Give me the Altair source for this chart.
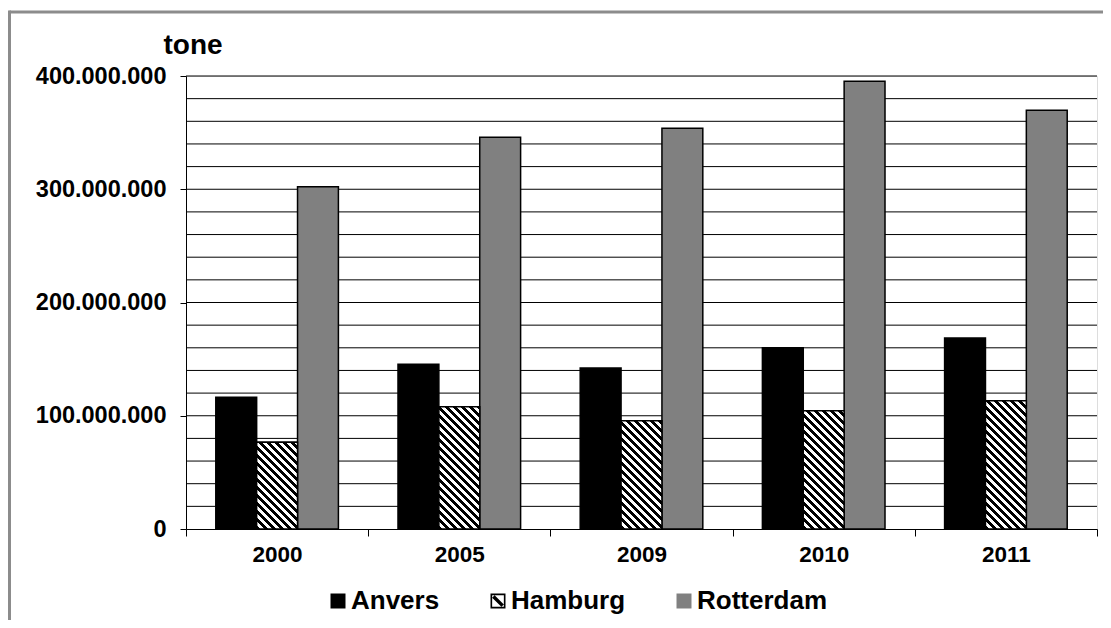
import altair as alt
import pandas as pd

# ---------------- data ----------------
years = ["2000", "2005", "2009", "2010", "2011"]
ports = ["Anvers", "Hamburg", "Rotterdam"]
anvers = [116.3e6, 145.4e6, 142.2e6, 160.1e6, 168.7e6]
hamburg = [76.5e6, 108.0e6, 95.6e6, 104.5e6, 113.3e6]
rotterdam = [302.3e6, 345.9e6, 353.8e6, 395.3e6, 369.7e6]
y_major = [0, 100e6, 200e6, 300e6, 400e6]
y_grid = [20e6 * i for i in range(1, 21)]
port_colors = ["#000000", "#ffffff", "#808080"]
legend_colors = ["#000000", "#000000", "#808080"]

# ---------------- layout ----------------
W, H = 911, 453
PAD = {"left": 178, "top": 68, "right": 6, "bottom": 91}
FONT = "Liberation Sans"
PO_OFF = 0.729          # outer padding of the port offsets inside a year
YMAX = 400e6

rows = []
for i, y in enumerate(years):
    for p, vals in zip(ports, [anvers, hamburg, rotterdam]):
        rows.append({"year": y, "port": p, "value": vals[i]})
df = pd.DataFrame(rows)

x_enc = alt.X(
    "year:N",
    scale=alt.Scale(domain=years, paddingInner=0, paddingOuter=0),
    axis=alt.Axis(
        title=None, labelAngle=0, tickBand="extent", tickSize=7,
        tickColor="black", domainColor="black", labelColor="black",
        labelFont=FONT, labelFontSize=22.5, labelFontWeight="bold",
        labelPadding=7.5, grid=False,
    ),
)
xo_enc = alt.XOffset(
    "port:N", scale=alt.Scale(domain=ports, paddingInner=0, paddingOuter=PO_OFF)
)
y_scale = alt.Scale(domain=[0, YMAX], nice=False, zero=True)
y_axis = alt.Axis(
    values=y_major, grid=False, tickSize=6, tickColor="black",
    domainColor="black", labelColor="black", labelFont=FONT,
    labelFontSize=23.5, labelFontWeight="bold", labelPadding=14,
    labelExpr="replace(format(datum.value, ','), regexp(',', 'g'), '.')",
    title="tone", titleAngle=0, titleAlign="left", titleBaseline="middle",
    titleX=-23, titleY=-31, titleFont=FONT, titleFontSize=28,
    titleFontWeight="bold", titleColor="black",
)
y_enc = alt.Y("value:Q", scale=y_scale, axis=y_axis)

# frame (grey border of the original picture)
one = alt.Data(values=[{"a": 1}])
frame_top = alt.Chart(one).mark_rule(color="#8c8c8c", strokeWidth=3).encode(
    x=alt.value(-176.5), x2=alt.value(1000), y=alt.value(-64)
)
frame_left = alt.Chart(one).mark_rule(color="#8c8c8c", strokeWidth=3).encode(
    x=alt.value(-176.5), y=alt.value(-65.5), y2=alt.value(700)
)

# horizontal grid lines every 20 million
grid = alt.Chart(pd.DataFrame({"value": y_grid})).mark_rule(
    color="black", strokeWidth=1
).encode(y=y_enc)

# one bar layer per port (plain fills)
bar_layers = []
for p, col in zip(ports, port_colors):
    bar_layers.append(
        alt.Chart(df)
        .transform_filter(alt.datum.port == p)
        .mark_bar(fill=col, stroke="black", strokeWidth=1.5)
        .encode(x=x_enc, xOffset=xo_enc, y=y_enc)
    )

# hatch pattern for Hamburg bars, drawn as a striped linear gradient
band = W / len(years) / (len(ports) + 2 * PO_OFF)


def hatch(value, period=8.0):
    h = value / YMAX * H
    w = band
    k = (w + h) / (w * w + h * h)
    n = (w + h) / period
    p = 1.0 / n
    stops = []
    j = 0
    while j * p < 1:
        a = j * p
        b = min(a + p / 2, 1.0)
        c = min(a + p, 1.0)
        stops += [alt.GradientStop(offset=a, color="black"),
                  alt.GradientStop(offset=b, color="black")]
        if b < 1.0:
            stops += [alt.GradientStop(offset=b, color="white"),
                      alt.GradientStop(offset=c, color="white")]
        j += 1
    return alt.LinearGradient(gradient="linear", x1=0, y1=1,
                              x2=k * w, y2=1 - k * h, stops=stops)


hatch_layers = []
for yr, v in zip(years, hamburg):
    hatch_layers.append(
        alt.Chart(df)
        .transform_filter((alt.datum.port == "Hamburg") & (alt.datum.year == yr))
        .mark_bar(fill=hatch(v), stroke="black", strokeWidth=1.5)
        .encode(x=x_enc, xOffset=xo_enc, y=y_enc)
    )

# legend carrier (invisible points); the Hamburg symbol is a framed square
# with a diagonal band (filled path with a hole)
hatch_symbol = ("M-1,-1H1V1H-1Z "
                "M-0.78,-0.78V0.78H0.78V-0.78Z "
                "M-0.78,-0.45L-0.45,-0.78L0.78,0.45L0.45,0.78Z")
leg = alt.Legend(
    title=None, orient="none", legendX=139, legendY=512, direction="horizontal",
    symbolSize=225, symbolStrokeWidth=0,
    symbolOpacity=1, labelFont=FONT, labelFontSize=26, labelFontWeight="bold",
    labelColor="black", labelOffset=0, columnPadding=45, padding=0,
)
legend_pts = alt.Chart(df).mark_point(filled=True, opacity=0).encode(
    x=x_enc, xOffset=xo_enc, y=y_enc,
    color=alt.Color("port:N", scale=alt.Scale(domain=ports, range=legend_colors),
                    legend=leg),
    shape=alt.Shape("port:N",
                    scale=alt.Scale(domain=ports,
                                    range=["square", hatch_symbol, "square"]),
                    legend=leg),
)

chart = (
    alt.layer(frame_top, frame_left, grid, *bar_layers, *hatch_layers, legend_pts)
    .properties(width=W, height=H, padding=PAD,
                autosize=alt.AutoSizeParams(type="none"), background="white")
    .configure_view(stroke=None)
    .configure(font=FONT)
)

chart.save("out.html", embed_options={"renderer": "svg", "actions": False})
